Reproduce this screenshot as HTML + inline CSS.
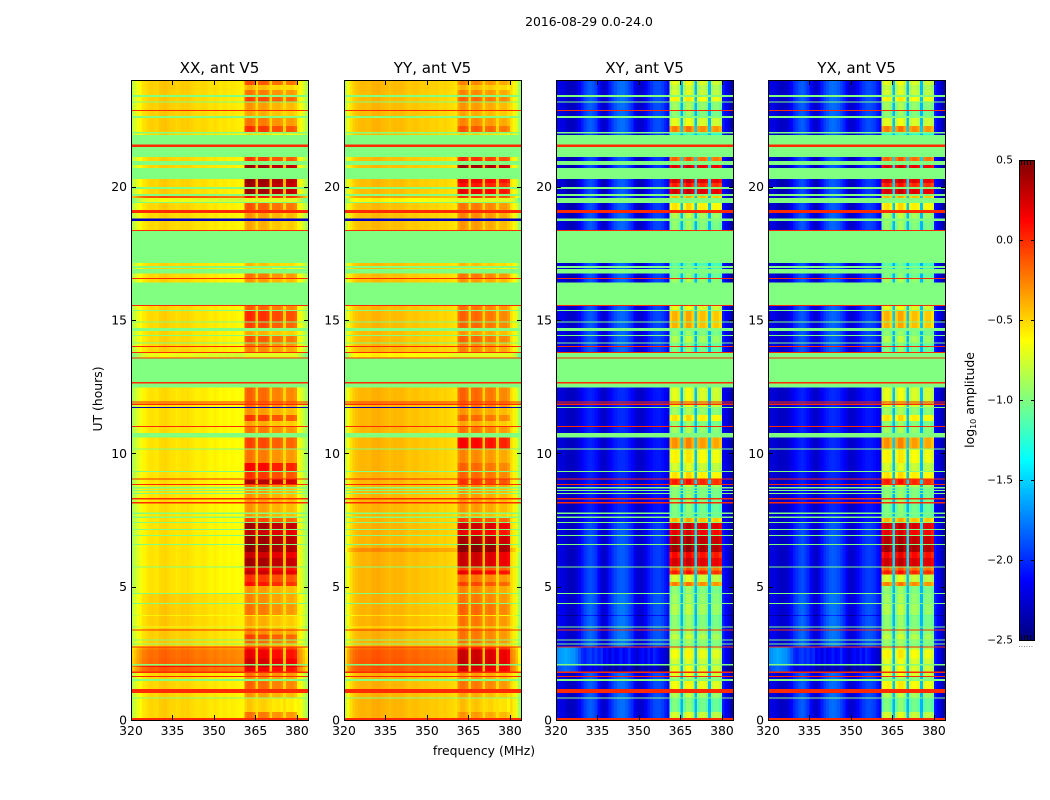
<!DOCTYPE html>
<html lang="en">
<head>
<meta charset="utf-8">
<title>2016-08-29 0.0-24.0</title>
<style>
html,body{margin:0;padding:0;background:#fff;}
#figure{display:block;width:1050px;height:800px;}
text{font-family:"DejaVu Sans","Liberation Sans",sans-serif;fill:#000;}
</style>
</head>
<body>
<svg id="figure" xmlns="http://www.w3.org/2000/svg" width="1050" height="800" viewBox="0 0 1050 800"></svg>
<script>
const _ = null;
const panelTitles = ['XX, ant V5', 'YY, ant V5', 'XY, ant V5', 'YX, ant V5'];
const frequencyTicks = [320, 335, 350, 365, 380];
const hourTicks = [0, 5, 10, 15, 20];
const colorbarTicks = [0.5, 0.0, -0.5, -1.0, -1.5, -2.0, -2.5];
const firstChannelMHz = 320;
const channelCount = 64;
const gapChannels = [45, 50, 55];

/* Time bands, ascending: start hour and row kind.
   n = measured, q = quiet/high-power measured, f = flagged, r = saturated line,
   y = faint line, d = dropout line */
const bandStart = [0,.07,.30,.80,.85,1.01,1.16,1.46,1.54,1.61,1.65,1.77,1.81,1.99,2.03,2.05,2.10,2.30,2.65,2.72,
2.76,2.83,2.87,2.98,3.02,3.20,3.35,3.39,3.47,3.51,3.90,3.94,4.35,4.39,4.72,4.76,5.03,5.18,5.45,5.60,
5.72,5.76,6.08,6.30,6.45,6.56,6.60,6.90,6.94,7.13,7.17,7.39,7.43,7.58,7.63,7.72,7.78,8.12,8.18,8.27,
8.32,8.48,8.52,8.59,8.63,8.68,8.74,8.81,8.85,9.02,9.05,9.30,9.34,9.64,10.14,10.18,10.59,10.76,10.99,11.03,
11.21,11.44,11.70,11.74,11.81,11.87,11.90,11.94,12.47,12.62,12.68,13.56,13.60,13.76,13.80,13.99,14.03,14.12,14.15,14.40,
14.44,14.59,14.70,14.90,14.94,15.34,15.38,15.53,15.56,16.40,16.54,16.58,16.75,16.91,16.95,17.03,17.13,18.34,18.38,18.65,18.72,
18.80,19.01,19.13,19.39,19.43,19.58,19.65,19.73,19.91,19.99,20.13,20.29,20.70,20.81,20.96,21.12,21.49,21.58,21.94,21.99,
22.05,22.28,22.58,22.65,22.84,22.88,23.15,23.19,23.37,23.44,23.63,23.81];
const bandEndHour = 24;
const bandKind = ['r','n','n','f','n','r','n','f','n','r','n','r','q','q','q','f','q','q','q','r',
'n','f','n','f','n','n','r','n','y','n','n','n','f','n','f','n','n','n','n','n',
'f','n','n','n','n','f','n','f','n','f','n','f','n','f','n','f','n','r','n','r',
'n','f','n','f','n','f','n','r','n','r','n','f','n','n','f','n','f','n','r','n',
'n','n','d','n','r','n','r','n','f','r','f','r','y','r','n','r','n','f','n','f',
'n','f','n','f','n','f','n','r','f','n','r','n','f','n','f','n','f','r','n','n','d',
'n','r','n','f','y','n','f','n','f','n','n','f','n','f','n','f','r','f','n','f',
'n','n','f','n','r','n','f','n','f','n','n','n'];

/* Interference-block level (log10 amplitude) per time band */
const xxRfi = [_,-.2,-.45,_,-.3,_,-.15,_,-.25,_,-.2,_,.2,.35,.2,_,.28,.2,.05,_,
-.3,_,-.15,_,-.05,-.25,_,-.3,_,-.35,-.55,-.2,_,-.25,_,-.3,.1,0,.32,.2,
_,.42,.3,.48,.48,_,.45,_,.32,_,.42,_,-.05,_,-.3,_,-.3,_,-.3,_,
-.3,_,-.3,_,-.3,_,-.2,_,.38,_,0,_,.15,-.2,_,-.05,_,-.2,_,-.35,
-.02,-.3,_,-.2,_,-.2,_,-.15,_,_,_,_,_,_,-.25,_,-.2,_,-.1,_,
-.35,_,-.05,_,.02,_,-.15,_,_,-.3,_,-.2,_,-.5,_,-.4,_,_,-.35,-.35,_,
-.3,_,-.1,_,_,.1,_,.42,_,.42,.45,_,.42,_,-.02,_,_,_,-.5,_,
0,-.2,_,-.35,_,-.3,_,-.05,_,-.2,-.4,-.1];
const yyRfi = [_,-.3,-.42,_,-.35,_,-.2,_,-.3,_,-.3,_,.25,.3,.25,_,.32,.3,.1,_,
-.3,_,-.2,_,-.2,-.2,_,-.25,_,-.2,-.5,-.15,_,-.2,_,-.25,-.05,-.2,.2,-.05,
_,.3,.3,.52,.52,_,.4,_,.2,_,.3,_,-.05,_,-.35,_,-.3,_,-.3,_,
-.3,_,-.3,_,-.3,_,-.25,_,0,_,-.15,_,-.15,-.25,_,.15,_,-.2,_,-.35,
-.15,-.3,_,-.2,_,-.2,_,-.15,_,_,_,_,_,_,-.25,_,-.25,_,-.15,_,
-.3,_,-.15,_,-.15,_,-.2,_,_,-.3,_,-.2,_,-.5,_,-.4,_,_,-.3,-.3,_,
-.25,_,-.2,_,_,0,_,.2,_,.1,.2,_,.42,_,.02,_,_,_,-.45,_,
-.1,-.25,_,-.35,_,-.3,_,-.15,_,-.25,-.4,-.25];
const xyRfi = [_,-.75,-1,_,-.85,_,-.65,_,-.9,_,-.7,_,-.7,-.7,-.7,_,-.75,-.65,-.8,_,
-.95,_,-.9,_,-.8,-.9,_,-.9,_,-.95,-1,-.85,_,-.9,_,-.95,-.25,-.75,.05,-.15,
_,.25,.12,.42,.42,_,.35,_,.2,_,.28,_,-.4,_,-1,_,-1,_,-.95,_,
-.95,_,-.95,_,-.95,_,-.8,_,.05,_,-.55,_,-.75,-.6,_,-.3,_,-.9,_,-.95,
-.55,-.9,_,-.7,_,-.7,_,-.7,_,_,_,_,_,_,-1,_,-1,_,-.85,_,
-.95,_,-.4,_,-.4,_,-.7,_,_,-.9,_,-1,_,-1.1,_,-1.1,_,_,-.95,-.9,_,
-.85,_,-.55,_,_,-.4,_,.25,_,.05,.25,_,.22,_,-.15,_,_,_,-1.2,_,
-.25,-.7,_,-.95,_,-.9,_,-.6,_,-.75,-.8,-.7];
const yxRfi = [_,-.75,-1,_,-.85,_,-.6,_,-.9,_,-.7,_,-.7,-.7,-.7,_,-.7,-.6,-.8,_,
-.95,_,-.9,_,-.8,-.9,_,-.9,_,-.95,-1,-.85,_,-.9,_,-.95,-.25,-.75,.05,-.15,
_,.28,.15,.42,.42,_,.35,_,.2,_,.28,_,-.4,_,-1,_,-1,_,-.95,_,
-.95,_,-.95,_,-.95,_,-.8,_,.05,_,-.55,_,-.75,-.6,_,-.3,_,-.9,_,-.95,
-.55,-.9,_,-.7,_,-.7,_,-.7,_,_,_,_,_,_,-1,_,-1,_,-.85,_,
-.95,_,-.4,_,-.4,_,-.7,_,_,-.9,_,-1,_,-1.1,_,-1.1,_,_,-.95,-.9,_,
-.85,_,-.55,_,_,-.4,_,.25,_,.05,.25,_,.22,_,-.15,_,_,_,-1.2,_,
-.25,-.7,_,-.95,_,-.9,_,-.6,_,-.75,-.8,-.7];

/* Broadband excess for the few bands that stand out */
const shiftedBandStart = [1.81,1.99,2.03,2.10,2.30,2.65,3.90,6.30,19.58];
const xxBandShift = [.36,.58,.36,.33,.31,.25,-.10,0,.40];
const yyBandShift = [.28,.30,.28,.28,.26,.20,-.15,.12,.10];
const xyBandShift = [-.2,-.2,-.2,0,0,0,-.2,0,0];
const yxBandShift = [-.2,-.2,-.2,0,0,0,-.2,0,0];

/* Slow drift of the background level over the day */
const epochStart = [0,2.76,4.72,7.4,12.47,15.5,19,22];
const xxEpochShift = [-.04,-.02,-.08,-.08,-.05,-.05,-.04,-.02];
const yyEpochShift = [-.03,-.03,-.03,-.04,-.05,-.06,-.06,-.05];
const crossEpochShift = [0,.03,-.03,-.1,0,-.02,-.05,0];
const crossEpochContrast = [1,1,.9,.6,.9,1,1,1];
const crossContrastPivot = -2.05;

/* Channel profiles: below the interference zone (ch 0-40), inside it (ch 41-59, offsets), above it (ch 60-63) */
const xxLowBand = [-.78,-.72,-.64,-.58,-.52,-.50,-.47,-.46,-.47,-.48,-.44,-.43,-.42,-.44,-.46,-.46,-.48,-.47,-.45,-.46,-.45,-.47,-.48,-.50,-.50,-.49,-.48,-.50,-.52,-.52,-.50,-.52,-.54,-.52,-.53,-.55,-.53,-.54,-.55,-.56,-.56];
const yyLowBand = [-.75,-.62,-.50,-.43,-.40,-.38,-.37,-.37,-.38,-.38,-.35,-.35,-.34,-.36,-.37,-.38,-.40,-.38,-.37,-.38,-.37,-.38,-.40,-.42,-.41,-.40,-.40,-.42,-.43,-.42,-.42,-.44,-.44,-.43,-.45,-.46,-.44,-.46,-.47,-.48,-.50];
const xyLowBand = [-2.15,-2.2,-2.2,-2.25,-2.3,-2.32,-2.3,-2.25,-2.15,-2.05,-1.95,-1.88,-1.85,-1.88,-1.95,-2.1,-2.25,-2.28,-2.2,-2.05,-1.95,-1.88,-1.82,-1.8,-1.8,-1.85,-1.92,-2.0,-2.15,-2.25,-2.28,-2.25,-2.15,-2.05,-1.98,-1.92,-1.9,-1.9,-1.95,-2.02,-2.1];
const yxLowBand = [-2.18,-2.2,-2.22,-2.25,-2.3,-2.3,-2.28,-2.22,-2.12,-2.02,-1.95,-1.88,-1.85,-1.9,-1.98,-2.12,-2.25,-2.28,-2.18,-2.05,-1.95,-1.88,-1.82,-1.8,-1.82,-1.86,-1.93,-2.02,-2.15,-2.25,-2.27,-2.22,-2.12,-2.04,-1.97,-1.92,-1.9,-1.92,-1.96,-2.04,-2.1];
const xyQuietLowBand = [-1.72,-1.68,-1.65,-1.62,-1.65,-1.68,-1.7,-1.78,-1.88,-2.0,-2.05,-1.98,-1.95,-2.02,-1.96,-2.05,-2.0,-2.15,-2.1,-2.2,-2.08,-2.18,-2.12,-2.05,-2.15,-2.1,-2.0,-2.12,-2.2,-2.25,-2.15,-2.1,-2.18,-2.05,-2.12,-2.02,-2.08,-2.15,-2.2,-2.25,-2.3];
const xxHighBand = [-.55,-.62,-.72,-.82];
const yyHighBand = [-.48,-.55,-.68,-.85];
const xyHighBand = [-2.05,-2.15,-2.25,-2.35];
const yxHighBand = [-2.05,-2.15,-2.25,-2.35];
const xxRfiShape = [-.05,0,0,-.05,_,-.05,-.03,-.03,-.07,_,-.12,-.1,-.1,-.14,_,-.14,-.12,-.12,-.17];
const yyRfiShape = [-.06,0,0,-.05,_,-.05,-.02,-.03,-.07,_,-.1,-.07,-.07,-.12,_,-.14,-.12,-.12,-.18];
const xyRfiShape = [-.1,0,.02,-.1,_,-.08,.05,.05,-.1,_,-.1,-.03,-.03,-.12,_,-.12,-.06,-.06,-.15];
const yxRfiShape = [-.1,0,.02,-.1,_,-.08,.05,.05,-.1,_,-.1,-.03,-.03,-.12,_,-.12,-.06,-.06,-.15];

const flaggedLevel = -1.0;
const saturatedLevel = 0.0;
const parallelDropoutLevel = -2.3;
const parallelGap = [-.6, .12];
const crossGap = [-1.6, .1];

const panelLeft = [131, 344, 556, 768];
const panelWidth = 177;
const plotTop = 80;
const plotBottom = 720;
const svg = document.getElementById('figure');
const NS = 'http://www.w3.org/2000/svg';

function xScale(panel, mhz) { return panelLeft[panel] + (mhz - firstChannelMHz) * panelWidth / channelCount; }
function yScale(hour) { return plotBottom - hour * (plotBottom - plotTop) / 24; }
function cbarScale(v) { return 160 + (0.5 - v) * 160; }
function clamp01(x) { return Math.max(0, Math.min(1, x)); }
function jet(v) {
  const t = clamp01((v + 2.5) / 3);
  const r = clamp01(1.5 - Math.abs(4 * t - 3));
  const g = clamp01(1.5 - Math.abs(4 * t - 2));
  const b = clamp01(1.5 - Math.abs(4 * t - 1));
  return 'rgb(' + Math.round(r * 255) + ',' + Math.round(g * 255) + ',' + Math.round(b * 255) + ')';
}
function make(parent, tag, attrs, txt) {
  const el = document.createElementNS(NS, tag);
  for (const k in attrs) el.setAttribute(k, attrs[k]);
  if (txt !== undefined) el.textContent = txt;
  parent.appendChild(el);
  return el;
}
const panelData = [
  { cross: false, rfi: xxRfi, shift: xxBandShift, epoch: xxEpochShift, low: xxLowBand, high: xxHighBand, shape: xxRfiShape, quiet: xxLowBand },
  { cross: false, rfi: yyRfi, shift: yyBandShift, epoch: yyEpochShift, low: yyLowBand, high: yyHighBand, shape: yyRfiShape, quiet: yyLowBand },
  { cross: true, rfi: xyRfi, shift: xyBandShift, epoch: crossEpochShift, low: xyLowBand, high: xyHighBand, shape: xyRfiShape, quiet: xyQuietLowBand },
  { cross: true, rfi: yxRfi, shift: yxBandShift, epoch: crossEpochShift, low: yxLowBand, high: yxHighBand, shape: yxRfiShape, quiet: xyQuietLowBand }
];
function epochIndex(hour) {
  let e = 0;
  for (let i = 0; i < epochStart.length; i++) if (hour >= epochStart[i]) e = i;
  return e;
}
function backgroundLevel(d, b, c, level) {
  const e = epochIndex(bandStart[b]);
  let v = level;
  if (d.cross) v = crossContrastPivot + (v - crossContrastPivot) * crossEpochContrast[e];
  return v + d.epoch[e];
}
function cellValue(p, b, c) {
  const d = panelData[p];
  const kind = bandKind[b];
  if (kind === 'f') return flaggedLevel;
  if (kind === 'r') return saturatedLevel;
  if (kind === 'd') return d.cross ? flaggedLevel : parallelDropoutLevel;
  const si = shiftedBandStart.indexOf(bandStart[b]);
  const sh = si >= 0 ? d.shift[si] : 0;
  if (kind === 'y') {
    if (d.cross) return flaggedLevel;
    return (c <= 40 ? d.low[c] : c >= 60 ? d.high[c - 60] : -.5) - .22;
  }
  if (c <= 40) return backgroundLevel(d, b, c, kind === 'q' ? d.quiet[c] : d.low[c]) + sh;
  if (c >= 60) return backgroundLevel(d, b, c, d.high[c - 60]) + sh;
  const rfi = d.rfi[b];
  if (gapChannels.indexOf(c) >= 0) {
    const g = d.cross ? crossGap : parallelGap;
    return g[0] + g[1] * (rfi + 1);
  }
  return rfi + d.shape[c - 41];
}

const suptitle = make(svg, 'text', { x: 589, y: 26, 'text-anchor': 'middle', 'font-size': '12.4' }, '2016-08-29 0.0-24.0');



panelTitles.forEach(function (title, p) {
  const g = make(svg, 'g', {});
  
  
  const cells = make(g, 'g', { 'shape-rendering': 'crispEdges' });
  
  
  bandStart.forEach(function (start, b) {
    const end = b + 1 < bandStart.length ? bandStart[b + 1] : bandEndHour;
    for (let c = 0; c < channelCount; c++) {
      const x0 = xScale(p, firstChannelMHz + c);
      const x1 = xScale(p, firstChannelMHz + c + 1);
      const rect = make(cells, 'rect', { x: x0, y: yScale(end), width: x1 - x0, height: yScale(start) - yScale(end), fill: jet(cellValue(p, b, c)) });
      
      
    }
  });
  const L = panelLeft[p];
  const R = L + panelWidth;
  const frame = make(g, 'rect', { x: L + .5, y: plotTop + .5, width: panelWidth, height: plotBottom - plotTop, fill: 'none', stroke: '#000', 'stroke-width': 1, 'shape-rendering': 'crispEdges' });
  
  
  const t = make(g, 'text', { x: L + panelWidth / 2, y: 73, 'text-anchor': 'middle', 'font-size': '15.1' }, title);
  
  
  frequencyTicks.forEach(function (f) {
    const x = Math.round(xScale(p, f)) + .5;
    const a = make(g, 'path', { d: 'M' + x + ' ' + plotBottom + 'v-5M' + x + ' ' + plotTop + 'v5', stroke: '#000', 'stroke-width': 1, fill: 'none' });
    
    
    const l = make(g, 'text', { x: xScale(p, f), y: 735, 'text-anchor': 'middle', 'font-size': '12.4' }, String(f));
    
    
  });
  hourTicks.forEach(function (h) {
    const y = Math.round(yScale(h)) + .5;
    const a = make(g, 'path', { d: 'M' + L + ' ' + y + 'h5M' + (R + 1) + ' ' + y + 'h-5', stroke: '#000', 'stroke-width': 1, fill: 'none' });
    
    
    const l = make(g, 'text', { x: L - 4, y: yScale(h) + 4.5, 'text-anchor': 'end', 'font-size': '12.4' }, String(h));
    
    
  });
});

const yTitle = make(svg, 'text', { x: 0, y: 0, transform: 'translate(102 399) rotate(-90)', 'text-anchor': 'middle', 'font-size': '12.4' }, 'UT (hours)');


const xTitle = make(svg, 'text', { x: 484, y: 755, 'text-anchor': 'middle', 'font-size': '12.4' }, 'frequency (MHz)');



const cbar = make(svg, 'g', {});


const cbarRamp = make(cbar, 'g', { 'shape-rendering': 'crispEdges' });


for (let i = 0; i < 256; i++) {
  const hi = 0.5 - 3 * i / 256;
  const lo = 0.5 - 3 * (i + 1) / 256;
  const r = make(cbarRamp, 'rect', { x: 1019, y: cbarScale(hi), width: 15, height: cbarScale(lo) - cbarScale(hi), fill: jet((hi + lo) / 2) });
  
  
}
const cbarFrame = make(cbar, 'rect', { x: 1019.5, y: 160.5, width: 15, height: 480, fill: 'none', stroke: '#000', 'stroke-width': 1, 'shape-rendering': 'crispEdges' });


colorbarTicks.forEach(function (v) {
  const y = Math.round(cbarScale(v)) + .5;
  const a = make(cbar, 'path', { d: 'M1019 ' + y + 'h4M1035 ' + y + 'h-4', stroke: '#000', 'stroke-width': 1, fill: 'none' });
  
  
  const txt = (v < 0 ? '\u2212' : '') + Math.abs(v).toFixed(1);
  const l = make(cbar, 'text', { x: 1013, y: cbarScale(v) + 3.5, 'text-anchor': 'end', 'font-size': '10.6' }, txt);
  
  
});
const cbarMinor = make(cbar, 'path', { d: 'M1021.5 160v5M1024.5 160v5M1027.5 160v5M1030.5 160v5M1021.5 640v-5M1024.5 640v-5M1027.5 640v-5M1030.5 640v-5', stroke: '#000', 'stroke-width': 1, fill: 'none' });


const cbarDots = make(cbar, 'text', { x: 1026, y: 647, 'text-anchor': 'middle', 'font-size': '6', 'letter-spacing': '.6', fill: '#333' }, '......');


const cbarTitle = make(cbar, 'text', { x: 0, y: 0, transform: 'translate(974 400) rotate(-90)', 'text-anchor': 'middle', 'font-size': '12.4' });


cbarTitle.appendChild(document.createTextNode('log'));
const cbarSub = make(cbarTitle, 'tspan', { dy: 2, 'font-size': '8' }, '10');


const cbarRest = make(cbarTitle, 'tspan', { dy: -2 }, ' amplitude');


</script>
</body>
</html>
